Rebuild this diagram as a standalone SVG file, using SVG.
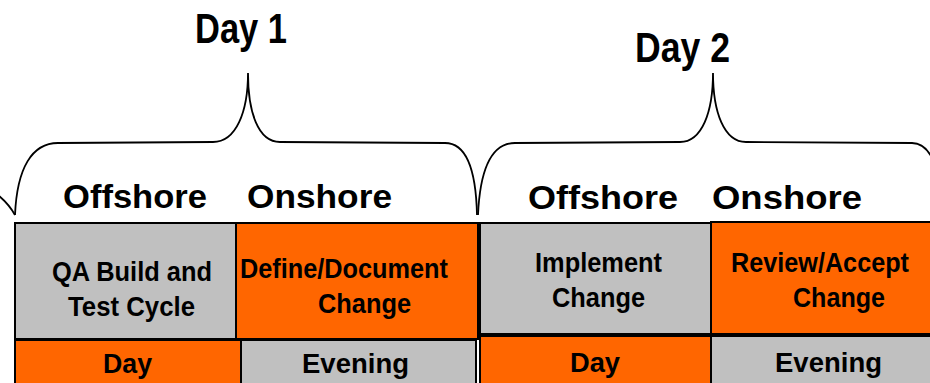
<svg xmlns="http://www.w3.org/2000/svg" width="930" height="383" viewBox="0 0 930 383">
<style>
.t{font-family:"Liberation Sans",Arial,sans-serif;font-weight:bold;fill:#000}
.big{font-size:42px}
.hd{font-size:34px}
.bx{font-size:27px}
.br{fill:none;stroke:#000;stroke-width:1.8}
.g{fill:#c0c0c0;stroke:#000;stroke-width:2}
.o{fill:#ff6600;stroke:#000;stroke-width:2}
</style>
<rect width="930" height="383" fill="#fff"/>
<g id="braces">
<path class="br" d="M-2,195 Q9,204 15,215"/>
<path class="br" d="M15,215 C17,168 32,143 58,143 L213,142 C236,142 248,112 248,73 C248,112 258,142 280,142 L445,143 C466,143 476,170 477,215"/>
<path class="br" d="M478,215 C480,170 491,143 515,143 L680,142 C702,142 713,112 713,73 C713,112 724,142 746,142 L912,143 C928,143 938,160 942,200"/>
</g>
<g id="titles">
<text class="t big" x="195" y="43" textLength="92" lengthAdjust="spacingAndGlyphs">Day 1</text>
<text class="t big" x="635" y="62" textLength="95" lengthAdjust="spacingAndGlyphs">Day 2</text>
<text class="t hd" x="63" y="208" textLength="144" lengthAdjust="spacingAndGlyphs">Offshore</text>
<text class="t hd" x="247" y="208" textLength="145" lengthAdjust="spacingAndGlyphs">Onshore</text>
<text class="t hd" x="528" y="209" textLength="150" lengthAdjust="spacingAndGlyphs">Offshore</text>
<text class="t hd" x="712" y="209" textLength="150" lengthAdjust="spacingAndGlyphs">Onshore</text>
</g>
<g id="qa">
<rect class="g" x="15" y="223" width="221" height="116"/>
<text class="t bx" x="52" y="281" textLength="160" lengthAdjust="spacingAndGlyphs">QA Build and</text>
<text class="t bx" x="68" y="316" textLength="127" lengthAdjust="spacingAndGlyphs">Test Cycle</text>
</g>
<g id="define">
<rect class="o" x="236" y="223" width="242" height="116"/>
<text class="t bx" x="240" y="278" textLength="208" lengthAdjust="spacingAndGlyphs">Define/Document</text>
<text class="t bx" x="318" y="313" textLength="93" lengthAdjust="spacingAndGlyphs">Change</text>
</g>
<g id="day1">
<rect class="o" x="15" y="340" width="226" height="50"/>
<text class="t bx" x="103" y="373" textLength="49" lengthAdjust="spacingAndGlyphs">Day</text>
</g>
<g id="evening1">
<rect class="g" x="241" y="340" width="235" height="50"/>
<text class="t bx" x="302" y="373" textLength="107" lengthAdjust="spacingAndGlyphs">Evening</text>
</g>
<g id="implement">
<rect class="g" x="480" y="223" width="231" height="111"/>
<text class="t bx" x="535" y="272" textLength="127" lengthAdjust="spacingAndGlyphs">Implement</text>
<text class="t bx" x="552" y="307" textLength="93" lengthAdjust="spacingAndGlyphs">Change</text>
</g>
<g id="review">
<rect class="o" x="711" y="222" width="225" height="112"/>
<text class="t bx" x="731" y="272" textLength="178" lengthAdjust="spacingAndGlyphs">Review/Accept</text>
<text class="t bx" x="793" y="307" textLength="92" lengthAdjust="spacingAndGlyphs">Change</text>
</g>
<g id="day2">
<rect class="o" x="480" y="336" width="231" height="50"/>
<text class="t bx" x="570" y="372" textLength="50" lengthAdjust="spacingAndGlyphs">Day</text>
</g>
<g id="evening2">
<rect class="g" x="711" y="336" width="225" height="50"/>
<text class="t bx" x="775" y="372" textLength="107" lengthAdjust="spacingAndGlyphs">Evening</text>
</g>
</svg>
